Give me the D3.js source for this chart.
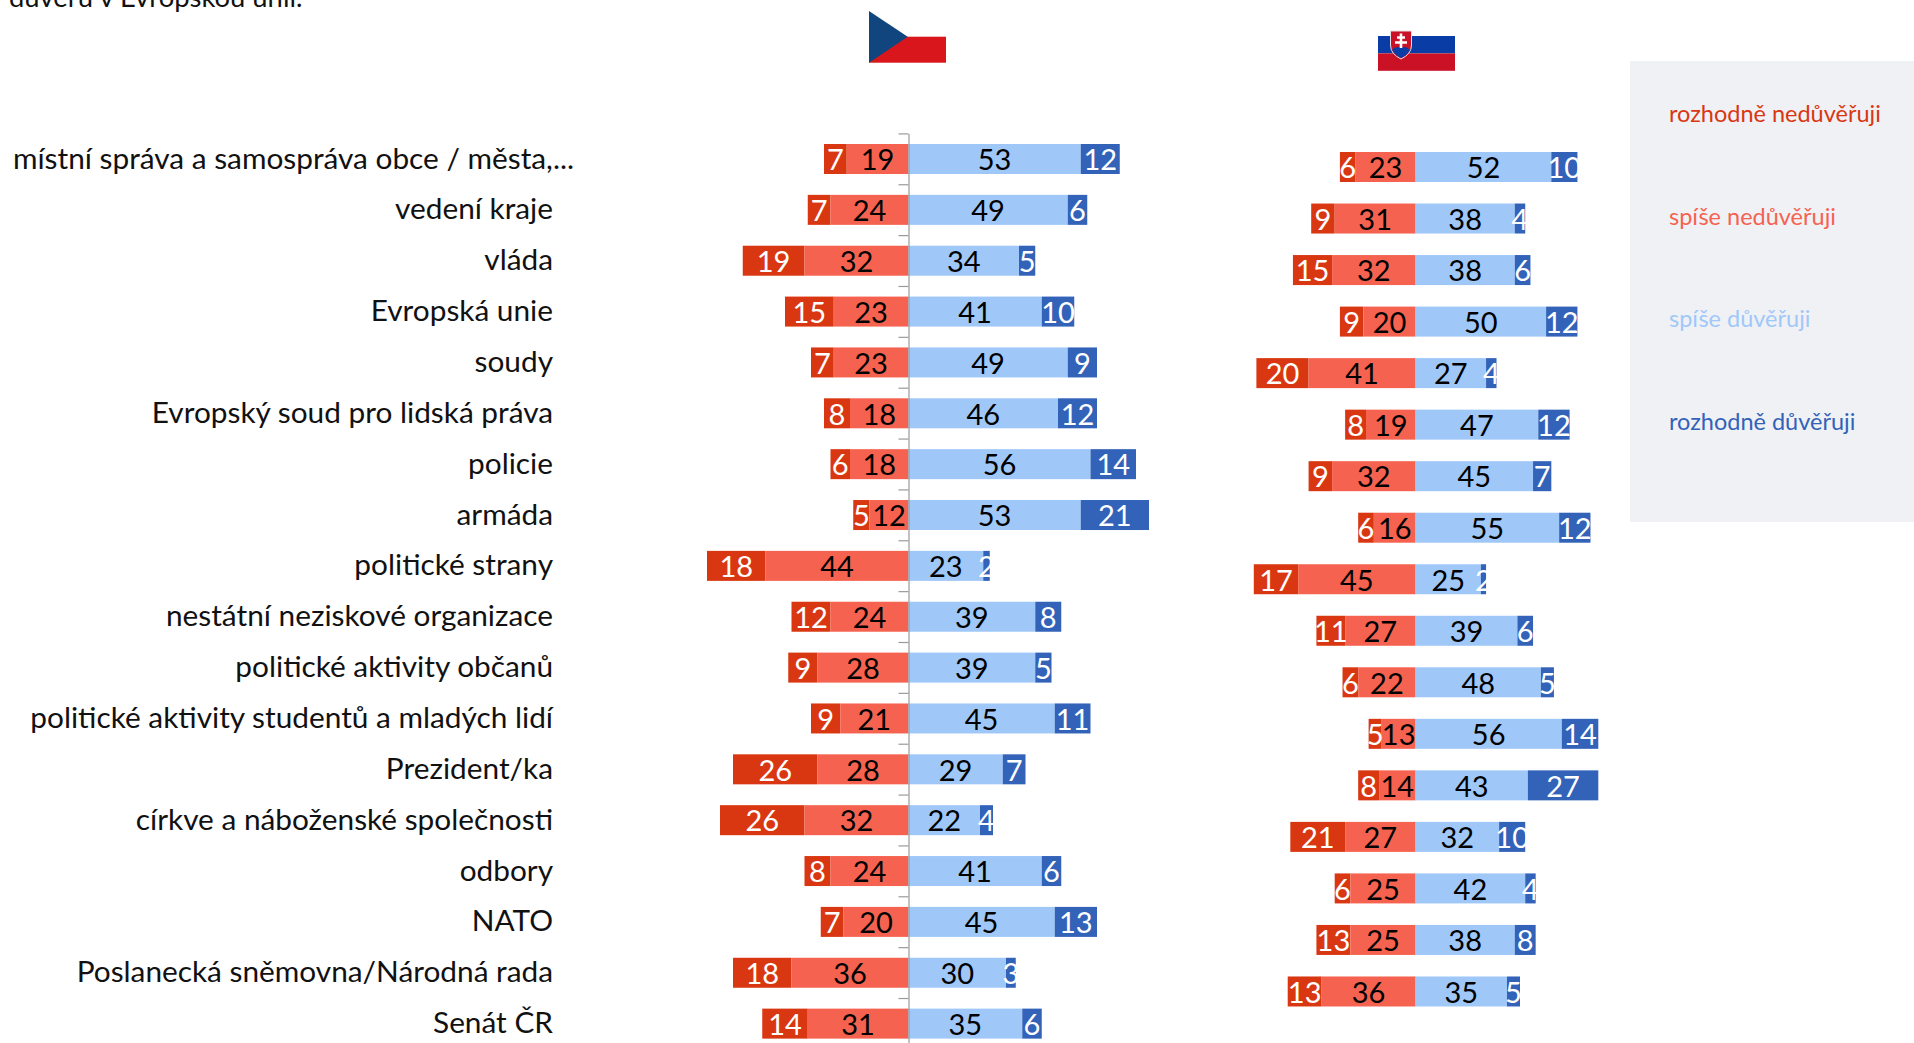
<!DOCTYPE html>
<html>
<head>
<meta charset="utf-8">
<script src="https://cdn.jsdelivr.net/npm/d3@7"></script>
<style>
  html, body { margin: 0; padding: 0; background: #fff; overflow: hidden; }
  text { font-family: Lato, "Noto Sans", sans-serif; }
</style>
</head>
<body>
<div id="container"></div>
<script>
const categories = [
  'místní správa a samospráva obce / města,...', 'vedení kraje', 'vláda', 'Evropská unie', 'soudy',
  'Evropský soud pro lidská práva', 'policie', 'armáda', 'politické strany',
  'nestátní neziskové organizace', 'politické aktivity občanů',
  'politické aktivity studentů a mladých lidí', 'Prezident/ka',
  'církve a náboženské společnosti', 'odbory', 'NATO',
  'Poslanecká sněmovna/Národná rada', 'Senát ČR'
]
const seriesNames = ['rozhodně nedůvěřuji', 'spíše nedůvěřuji', 'spíše důvěřuji', 'rozhodně důvěřuji']
const seriesColors = ['#d93711', '#f56350', '#9fc8f9', '#3362b9']
const labelColors = ['#fff', '#000', '#000', '#fff']

const czStrongNo = [7, 7, 19, 15, 7, 8, 6, 5, 18, 12, 9, 9, 26, 26, 8, 7, 18, 14]
const czRatherNo = [19, 24, 32, 23, 23, 18, 18, 12, 44, 24, 28, 21, 28, 32, 24, 20, 36, 31]
const czRatherYes = [53, 49, 34, 41, 49, 46, 56, 53, 23, 39, 39, 45, 29, 22, 41, 45, 30, 35]
const czStrongYes = [12, 6, 5, 10, 9, 12, 14, 21, 2, 8, 5, 11, 7, 4, 6, 13, 3, 6]

const skStrongNo = [6, 9, 15, 9, 20, 8, 9, 6, 17, 11, 6, 5, 8, 21, 6, 13, 13]
const skRatherNo = [23, 31, 32, 20, 41, 19, 32, 16, 45, 27, 22, 13, 14, 27, 25, 25, 36]
const skRatherYes = [52, 38, 38, 50, 27, 47, 45, 55, 25, 39, 48, 56, 43, 32, 42, 38, 35]
const skStrongYes = [10, 4, 6, 12, 4, 12, 7, 12, 2, 6, 5, 14, 27, 10, 4, 8, 5]

const svg = d3.select('#container').append('svg')
  .attr('width', 1914)
  .attr('height', 1043)
  .style('display', 'block')

// clipped line of the slide text above the chart
svg.append('text')
  .attr('x', 9).attr('y', 7)
  .attr('font-size', 27.4)
  .attr('fill', '#111')
  .text('důvěru v Evropskou unii.')

function drawPanel (values, opts) {
  const x = d3.scaleLinear()
    .domain([0, 10])
    .range([opts.zero, opts.zero + opts.unit * 10])
  const y = d3.scaleLinear()
    .domain([0, opts.rows - 1])
    .range([opts.top, opts.top + opts.step * (opts.rows - 1)])
  const g = svg.append('g')

  d3.range(opts.rows).forEach(i => {
    const row = values.map(s => s[i])
    const segments = [
      { s: 0, from: -(row[0] + row[1]), to: -row[1], v: row[0] },
      { s: 1, from: -row[1], to: 0, v: row[1] },
      { s: 2, from: 0, to: row[2], v: row[2] },
      { s: 3, from: row[2], to: row[2] + row[3], v: row[3] }
    ]
    const rowG = g.append('g')
    rowG.selectAll('rect')
      .data(segments)
      .join('rect')
      .attr('x', d => x(d.from))
      .attr('y', y(i) - 15)
      .attr('width', d => x(d.to) - x(d.from))
      .attr('height', 30)
      .attr('fill', d => seriesColors[d.s])
    rowG.selectAll('text')
      .data(segments)
      .join('text')
      .attr('x', d => x((d.from + d.to) / 2))
      .attr('y', y(i) + 11.3)
      .attr('text-anchor', 'middle')
      .attr('font-size', 29)
      .attr('fill', d => labelColors[d.s])
      .text(d => d.v)
  })
  return { x, y, g }
}

const cz = drawPanel([czStrongNo, czRatherNo, czRatherYes, czStrongYes],
  { zero: 908.5, unit: 3.25, top: 159, step: 50.86, rows: 18 })
drawPanel([skStrongNo, skRatherNo, skRatherYes, skStrongYes],
  { zero: 1415.6, unit: 2.61, top: 167, step: 51.53, rows: 17 })

// category axis of the czech panel, ticks sit between the rows
const tickScale = d3.scaleLinear().domain([0, 18]).range([133.4, 133.4 + 18 * 50.86])
svg.append('g')
  .attr('transform', 'translate(908.5,0)')
  .call(d3.axisLeft(tickScale).tickValues(d3.range(19)).tickFormat('').tickSize(10).tickSizeOuter(0))
  .call(a => a.selectAll('line, path').attr('stroke', '#9a9a9a').attr('stroke-width', 1.2))

svg.append('g').selectAll('text')
  .data(categories)
  .join('text')
  .attr('x', (d, i) => i === 0 ? 574 : 553)
  .attr('y', (d, i) => cz.y(i) + 9.5)
  .attr('text-anchor', 'end')
  .attr('font-size', 29.8)
  .attr('fill', '#111')
  .text(d => d)

// flags
const flags = svg.append('g')
flags.append('rect').attr('x', 869).attr('y', 36.7).attr('width', 77).attr('height', 26).attr('fill', '#d9161c')
flags.append('path').attr('d', d3.line()([[869, 11], [907.7, 36.7], [869, 62.7]])).attr('fill', '#11457e')

flags.append('rect').attr('x', 1378).attr('y', 36).attr('width', 77).attr('height', 17.4).attr('fill', '#0a3ca5')
flags.append('rect').attr('x', 1378).attr('y', 53.4).attr('width', 77).attr('height', 17.4).attr('fill', '#cb1126')
flags.append('path')
  .attr('d', 'M1390.5,31H1411.5V45Q1411.5,54 1401,59Q1390.5,54 1390.5,45Z')
  .attr('fill', '#cb1126').attr('stroke', '#e8dfe4').attr('stroke-width', 1)
flags.append('path')
  .attr('d', 'M1392,50Q1396,45 1401,48Q1406,45 1410,50Q1407,55 1401,58Q1395,55 1392,50Z')
  .attr('fill', '#0a3ca5')
flags.append('path')
  .attr('d', 'M1401,33.5V48M1397,37.5H1405M1395,42.5H1407')
  .attr('stroke', '#fff').attr('stroke-width', 2.6).attr('fill', 'none')

// legend panel
svg.append('rect').attr('x', 1630).attr('y', 61).attr('width', 284).attr('height', 461).attr('fill', '#f0f1f5')
const legendY = d3.scalePoint().domain(seriesNames).range([114, 422])
svg.append('g').selectAll('text')
  .data(seriesNames)
  .join('text')
  .attr('x', 1669)
  .attr('y', d => legendY(d) + 8)
  .attr('font-size', 23.5)
  .attr('font-family', '"Noto Sans", sans-serif')
  .attr('fill', (d, i) => seriesColors[i])
  .text(d => d)
</script>
</body>
</html>
